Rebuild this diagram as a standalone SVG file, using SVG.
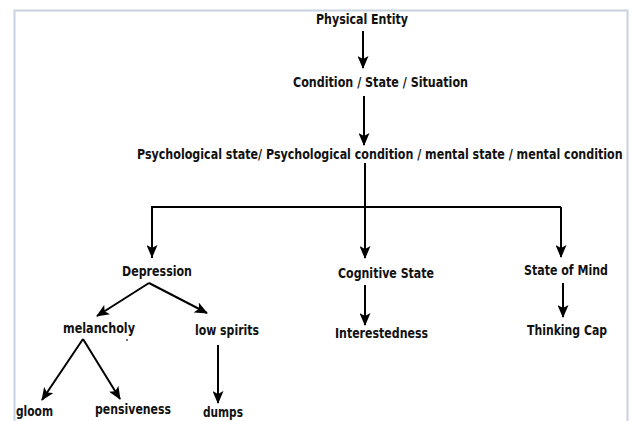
<svg xmlns="http://www.w3.org/2000/svg" width="633" height="421" viewBox="0 0 633 421">
  <style>
    .t { font-family: "Liberation Sans Narrow", "DejaVu Sans Condensed", "Liberation Sans", sans-serif; font-weight: bold; font-size: 14px; fill: #111; }
    .c { fill: none; stroke: #000; stroke-width: 2; marker-end: url(#ah); }
    .l { fill: none; stroke: #000; stroke-width: 2; }
  </style>
  <defs>
    <marker id="ah" viewBox="0 0 13 11" refX="12" refY="5.5" markerWidth="13" markerHeight="11" markerUnits="userSpaceOnUse" orient="auto">
      <path d="M0,0 L13,5.5 L0,11 L3,5.5 Z" fill="#000"/>
    </marker>
  </defs>
  <rect x="0" y="0" width="633" height="421" fill="#fff"/>
  <rect x="14.5" y="10.5" width="613" height="420" fill="none" stroke="#c8d1e0" stroke-width="2"/>

  <g id="connectors">
    <line class="c" x1="363" y1="31" x2="363" y2="68"/>
    <line class="c" x1="364" y1="96" x2="364" y2="145"/>
    <line class="c" x1="365" y1="163" x2="365" y2="258"/>
    <polyline class="l" points="152,258 152,207 561,207"/>
    <line class="c" x1="152" y1="207" x2="152" y2="257"/>
    <line class="c" x1="561" y1="207" x2="561" y2="257"/>
    <line class="c" x1="149" y1="283" x2="97" y2="316"/>
    <line class="c" x1="149" y1="283" x2="207" y2="313"/>
    <line class="c" x1="83" y1="339" x2="42" y2="400"/>
    <line class="c" x1="83" y1="339" x2="120" y2="399"/>
    <line class="c" x1="218" y1="345" x2="218" y2="403"/>
    <line class="c" x1="365" y1="285" x2="365" y2="325"/>
    <line class="c" x1="563" y1="283" x2="563" y2="317"/>
  </g>

  <g id="physical-entity"><text class="t" x="316" y="23.5" textLength="92" lengthAdjust="spacingAndGlyphs">Physical Entity</text></g>
  <g id="condition"><text class="t" x="293" y="87" textLength="175" lengthAdjust="spacingAndGlyphs">Condition / State / Situation</text></g>
  <g id="psychological-state"><text class="t" transform="translate(137 159) scale(0.8 1)" x="0" y="0" textLength="607" lengthAdjust="spacingAndGlyphs">Psychological state/ Psychological condition / mental state / mental condition</text></g>
  <g id="depression"><text class="t" x="122" y="276" textLength="70" lengthAdjust="spacingAndGlyphs">Depression</text></g>
  <g id="cognitive-state"><text class="t" x="338" y="278" textLength="96" lengthAdjust="spacingAndGlyphs">Cognitive State</text></g>
  <g id="state-of-mind"><text class="t" x="524" y="275" textLength="84" lengthAdjust="spacingAndGlyphs">State of Mind</text></g>
  <g id="melancholy"><text class="t" x="63" y="333" textLength="72" lengthAdjust="spacingAndGlyphs">melancholy</text><circle cx="127" cy="340" r="0.9" fill="#333"/></g>
  <g id="low-spirits"><text class="t" x="195" y="335" textLength="64" lengthAdjust="spacingAndGlyphs">low spirits</text></g>
  <g id="interestedness"><text class="t" x="335" y="338" textLength="93" lengthAdjust="spacingAndGlyphs">Interestedness</text></g>
  <g id="thinking-cap"><text class="t" x="527" y="335" textLength="80" lengthAdjust="spacingAndGlyphs">Thinking Cap</text></g>
  <g id="gloom"><text class="t" x="16" y="416" textLength="37" lengthAdjust="spacingAndGlyphs">gloom</text></g>
  <g id="pensiveness"><text class="t" x="95" y="414" textLength="76" lengthAdjust="spacingAndGlyphs">pensiveness</text></g>
  <g id="dumps"><text class="t" x="203" y="417" textLength="40" lengthAdjust="spacingAndGlyphs">dumps</text></g>
</svg>
